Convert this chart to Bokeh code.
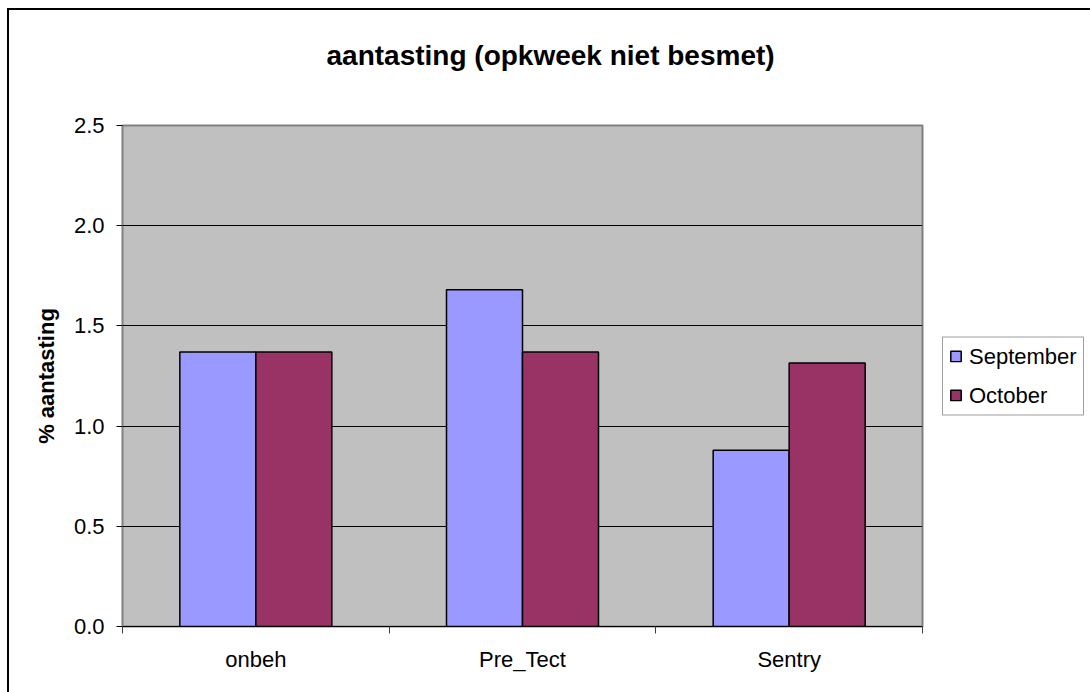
from bokeh.plotting import figure
from bokeh.models import FixedTicker, Legend, LegendItem, LinearAxis
from bokeh.embed import file_html
from bokeh.resources import INLINE

categories = ["onbeh", "Pre_Tect", "Sentry"]
series_names = ["September", "October"]
september = [1.37, 1.68, 0.88]
october = [1.37, 1.37, 1.315]
colors = ["#9999FF", "#993366"]
y_ticks = [0.0, 0.5, 1.0, 1.5, 2.0, 2.5]

FONT = "Liberation Sans"

p = figure(frame_width=800, frame_height=501, x_range=(0, len(categories)), y_range=(0, 2.5),
           output_backend="svg", toolbar_location=None,
           min_border_left=113, min_border_top=115, min_border_bottom=68, min_border_right=170,
           margin=(8, 0, 0, 7))
p.styles = {"border-left": "2px solid black", "border-top": "2px solid black"}
p.background_fill_color = "#C0C0C0"
p.border_fill_color = "white"
p.outline_line_color = "#808080"
p.outline_line_width = 2

# title
p.title.text = "aantasting (opkweek niet besmet)"
p.title.align = "left"
p.title.text_font = FONT
p.title.text_font_size = "28px"
p.title.text_font_style = "bold"
p.title.text_color = "black"
p.title.offset = 204
p.title.standoff = 0

# invisible spacer between the title and the plot area (one hidden tick)
spacer = LinearAxis(ticker=FixedTicker(ticks=[1.5], minor_ticks=[]), major_tick_out=55,
                    major_tick_in=0, minor_tick_out=0, minor_tick_in=0,
                    axis_line_color=None, major_tick_line_color=None,
                    minor_tick_line_color=None, major_label_overrides={1.5: ""},
                    major_label_standoff=0, major_label_text_font_size="1px")
p.add_layout(spacer, "above")

width = 0.285
xs = [i + 0.5 for i in range(len(categories))]
r1 = p.vbar(x=[x - width / 2 for x in xs], top=september, width=width, bottom=0,
            fill_color=colors[0], line_color="black", line_width=1.5)
r2 = p.vbar(x=[x + width / 2 for x in xs], top=october, width=width, bottom=0,
            fill_color=colors[1], line_color="black", line_width=1.5)

# grid
p.xgrid.visible = False
p.ygrid.grid_line_color = "black"
p.ygrid.grid_line_width = 1
p.ygrid.ticker = FixedTicker(ticks=y_ticks)

# y axis
p.yaxis.ticker = FixedTicker(ticks=y_ticks)
p.yaxis.major_label_overrides = {t: f"{t:.1f}" for t in y_ticks}
p.yaxis.axis_label = "% aantasting"
p.yaxis.axis_label_text_font = FONT
p.yaxis.axis_label_text_font_size = "22px"
p.yaxis.axis_label_text_font_style = "bold"
p.yaxis.axis_label_text_color = "black"
p.yaxis.axis_label_standoff = 12
p.yaxis.major_label_text_font = FONT
p.yaxis.major_label_text_font_size = "22px"
p.yaxis.major_label_text_color = "black"
p.yaxis.major_label_standoff = 12
p.yaxis.major_tick_out = 6
p.yaxis.major_tick_in = 0
p.yaxis.minor_tick_out = 0
p.yaxis.minor_tick_in = 0
p.yaxis.axis_line_color = "#808080"
p.yaxis.major_tick_line_color = "black"

# x axis (bottom)
xaxis = p.below[0]
xaxis.ticker = FixedTicker(ticks=xs, minor_ticks=list(range(len(categories) + 1)))
xaxis.major_label_overrides = {x: c for x, c in zip(xs, categories)}
xaxis.major_tick_out = 0
xaxis.major_tick_in = 0
xaxis.minor_tick_out = 7
xaxis.minor_tick_in = 0
xaxis.minor_tick_line_color = "#404040"
xaxis.axis_line_color = "black"
xaxis.major_label_text_font = FONT
xaxis.major_label_text_font_size = "22px"
xaxis.major_label_text_color = "black"
xaxis.major_label_standoff = 13

legend = Legend(items=[LegendItem(label=series_names[0], renderers=[r1]),
                       LegendItem(label=series_names[1], renderers=[r2])],
                location="center_left")
legend.label_text_font = FONT
legend.label_text_font_size = "22px"
legend.label_text_color = "black"
legend.glyph_width = 13
legend.glyph_height = 13
legend.border_line_color = "#404040"
legend.border_line_width = 1
legend.background_fill_color = "white"
legend.background_fill_alpha = 1
legend.padding = 6
legend.spacing = 13
legend.label_standoff = 7
legend.margin = 20
p.add_layout(legend, "right")

open("out.html", "w").write(file_html(p, INLINE))
